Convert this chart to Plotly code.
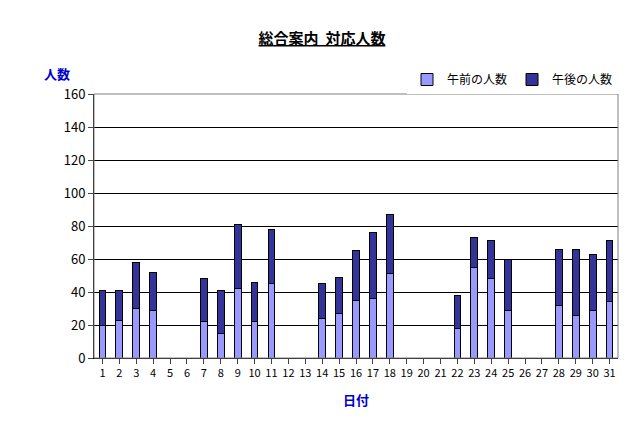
import plotly.graph_objects as go

days = [str(d) for d in range(1, 32)]
total = {1: 41, 2: 41, 3: 58, 4: 52, 7: 48, 8: 41, 9: 81, 10: 46, 11: 78,
         14: 45, 15: 49, 16: 65, 17: 76, 18: 87, 22: 38, 23: 73, 24: 71,
         25: 60, 28: 66, 29: 66, 30: 63, 31: 71}
morning = {1: 20, 2: 23, 3: 30, 4: 29, 7: 22, 8: 15, 9: 42, 10: 22, 11: 45,
           14: 24, 15: 27, 16: 35, 17: 36, 18: 51, 22: 18, 23: 55, 24: 48,
           25: 29, 28: 32, 29: 26, 30: 29, 31: 34}
am = [morning.get(d, 0) for d in range(1, 32)]
pm = [total[d] - morning[d] if d in total else 0 for d in range(1, 32)]

font = "Noto Sans CJK JP"
fig = go.Figure()
fig.add_bar(x=days, y=am, name="午前の人数", marker_color="#9999FF",
            marker_line_color="black", marker_line_width=1)
fig.add_bar(x=days, y=pm, name="午後の人数", marker_color="#333399",
            marker_line_color="black", marker_line_width=1)

fig.update_layout(
    barmode="stack", bargap=0.6, width=628, height=425,
    paper_bgcolor="white", plot_bgcolor="white",
    margin=dict(l=86, r=18, t=86, b=75),
    font=dict(family=font, size=12, color="black"),
    title=dict(text="<b><u>総合案内  対応人数</u></b>", x=0.5, y=0.94,
               xanchor="center", font=dict(size=15)),
    legend=dict(orientation="h", x=1, y=1.0, xanchor="right", yanchor="bottom",
                font=dict(size=12), traceorder="normal"),
    showlegend=True,
    annotations=[
        dict(text="<b>人数</b>", x=-0.1, y=1.12, xref="paper", yref="paper",
             showarrow=False, font=dict(color="#0000CC", size=13)),
        dict(text="<b>日付</b>", x=0.5, y=-0.2, xref="paper", yref="paper",
             showarrow=False, font=dict(color="#0000CC", size=13)),
    ],
)
fig.update_xaxes(showline=True, linecolor="black", ticks="outside", ticklen=5,
                 tickfont=dict(size=11, family=font), tickangle=0)
fig.update_yaxes(range=[0, 160], dtick=20, showgrid=True, gridcolor="black",
                 gridwidth=1, showline=True, linecolor="black", ticks="outside",
                 tickfont=dict(size=13), zeroline=False)
fig.add_shape(type="rect", xref="paper", yref="paper", x0=0, x1=1, y0=0, y1=1,
              line=dict(color="gray", width=1))
fig.write_html("out.html")
